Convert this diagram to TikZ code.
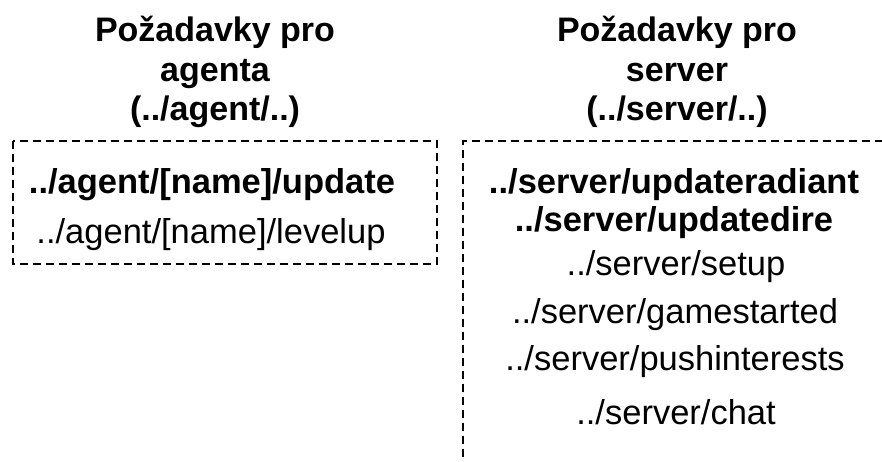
\documentclass[tikz,border=0pt]{standalone}
\usepackage{fontspec}
\setmainfont{Liberation Sans}
\begin{document}
\begin{tikzpicture}[x=1pt,y=-1pt,
  head/.style={font=\fontsize{34}{39.5}\selectfont\bfseries, align=center, inner sep=0pt},
  bold/.style={font=\fontsize{34.5}{36}\selectfont\bfseries, inner sep=0pt},
  plain/.style={font=\fontsize{34.5}{36}\selectfont, inner sep=0pt},
  group/.style={draw=black, line width=2.6pt, dash pattern=on 8pt off 5pt}]
\useasboundingbox (0,0) rectangle (882,461);
\clip (0,0) rectangle (882,461);

% column headings
\node[head] (hagent)  at (215,72) {Požadavky pro\\agenta\\(../agent/..)};
\node[head] (hserver) at (677,72) {Požadavky pro\\server\\(../server/..)};

% agent group
\draw[group] (13,141) rectangle (437,264);
\node[bold]  (aupdate)  at (212,185) {../agent/[name]/update};
\node[plain] (alevelup) at (211,235) {../agent/[name]/levelup};

% server group (continues past the page edge)
\draw[group] (463,600) -- (463,141) -- (900,141);
\node[bold]  (sradiant) at (674,185) {../server/updateradiant};
\node[bold]  (sdire)    at (674,223) {../server/updatedire};
\node[plain] (ssetup)   at (676,267) {../server/setup};
\node[plain] (sstart)   at (675,315) {../server/gamestarted};
\node[plain] (spush)    at (675,362) {../server/pushinterests};
\node[plain] (schat)    at (676,412) {../server/chat};
\end{tikzpicture}
\end{document}
